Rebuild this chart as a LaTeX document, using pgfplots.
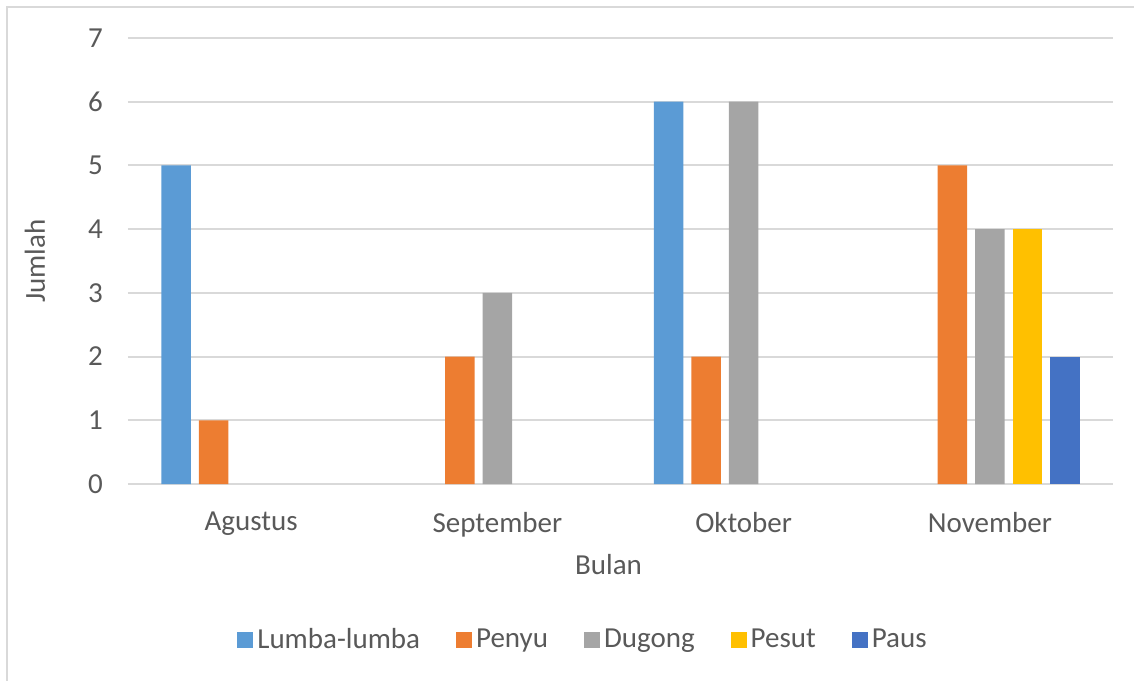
\documentclass[border=0pt]{standalone}
\usepackage{pgfplots}
\pgfplotsset{compat=1.18}
\usepackage{fontspec}
\setmainfont{Carlito}
\definecolor{cLumba}{HTML}{5B9BD5}
\definecolor{cPenyu}{HTML}{ED7D31}
\definecolor{cDugong}{HTML}{A5A5A5}
\definecolor{cPesut}{HTML}{FFC000}
\definecolor{cPaus}{HTML}{4472C4}
\definecolor{txt}{HTML}{595959}
\definecolor{gridc}{HTML}{D9D9D9}
\begin{document}
\begin{tikzpicture}
\begin{axis}[
  scale only axis,
  width=492.5pt, height=223pt,
  xmin=-0.5, xmax=3.5, ymin=0, ymax=7,
  xtick={0,1,2,3},
  xticklabels={Agustus,September,Oktober,November},
  ytick={0,1,2,3,4,5,6,7},
  ymajorgrids,
  grid style={gridc, line width=1pt},
  axis line style={draw=none},
  major tick length=0pt,
  tick label style={font=\fontsize{14.5}{16}\selectfont, text=txt},
  /pgf/number format/assume math mode=true,
  yticklabel style={xshift=-9pt},
  xticklabel style={yshift=-10.5pt},
  xlabel={Bulan}, ylabel={Jumlah},
  label style={font=\fontsize{14.5}{16}\selectfont, text=txt},
  xlabel style={at={(axis description cs:0.5,0)}, anchor=center, yshift=-40.5pt, xshift=-6pt},
  ylabel style={at={(axis description cs:0,0.5)}, anchor=center, yshift=46.5pt},
  ybar, bar width=14.75pt,
  legend columns=5,
  legend style={draw=none, at={(228pt,-78pt)}, anchor=center,
    font=\fontsize{14.5}{16}\selectfont, text=txt,
    /tikz/every even column/.append style={column sep=16pt}},
  legend image code/.code={\fill[#1] (0pt,-4pt) rectangle (8pt,4pt);},
]
\addplot[fill=cLumba, draw=none, bar shift=-37.5pt] coordinates {(0,5) (2,6)};
\addplot[fill=cPenyu, draw=none, bar shift=-18.75pt] coordinates {(0,1) (1,2) (2,2) (3,5)};
\addplot[fill=cDugong, draw=none, bar shift=0pt] coordinates {(1,3) (2,6) (3,4)};
\addplot[fill=cPesut, draw=none, bar shift=18.75pt] coordinates {(3,4)};
\addplot[fill=cPaus, draw=none, bar shift=37.5pt] coordinates {(3,2)};
\legend{Lumba-lumba,Penyu,Dugong,Pesut,Paus}
\end{axis}
\draw[gridc, line width=1pt] (-60.5pt,-120pt) -- (-60.5pt,238.5pt) -- (520pt,238.5pt);
\pgfresetboundingbox
\useasboundingbox (-64pt,-98pt) rectangle (503pt,242pt);
\end{tikzpicture}
\end{document}
